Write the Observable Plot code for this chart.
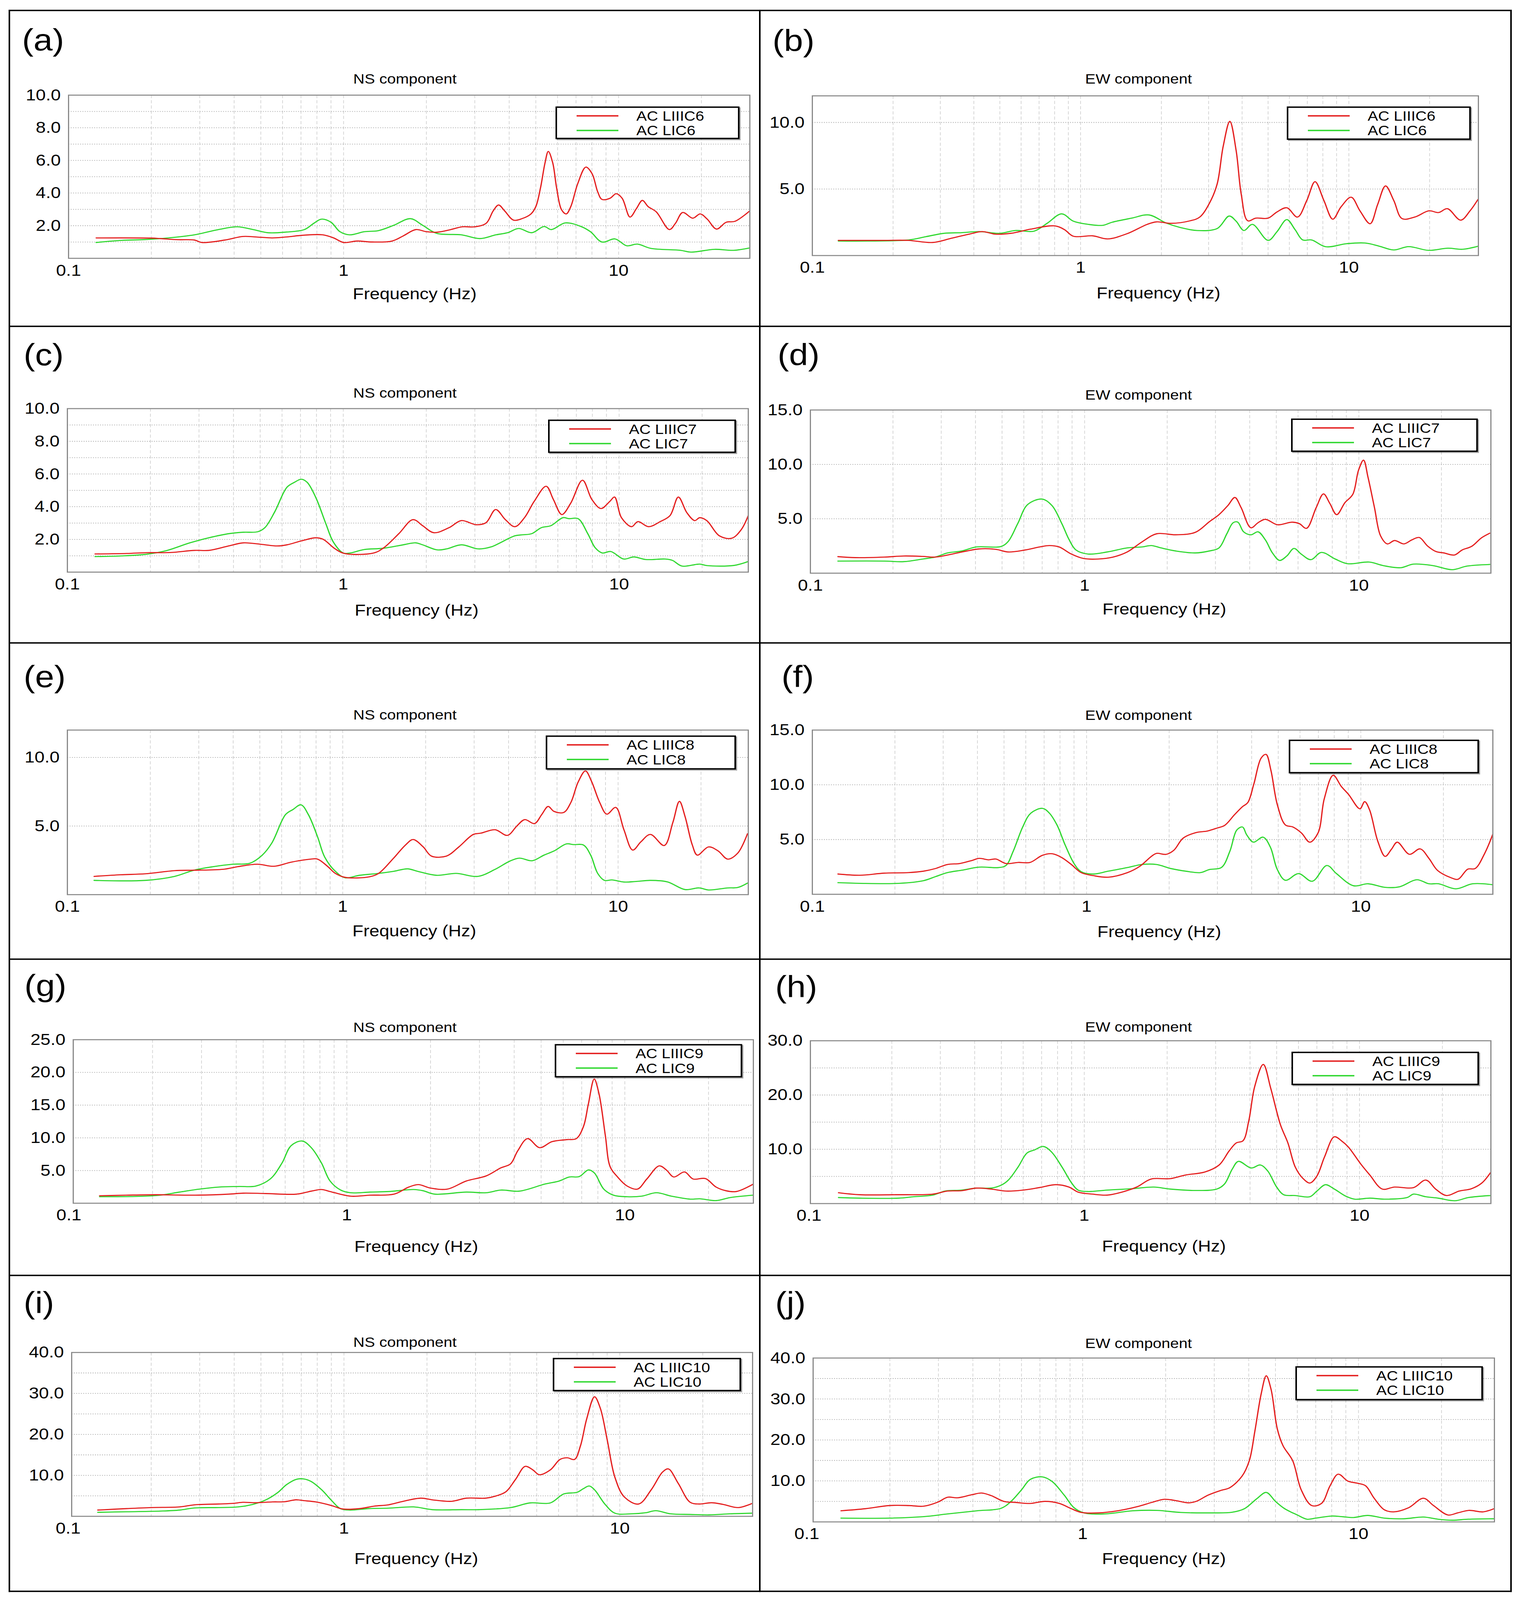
<!DOCTYPE html>
<html>
<head>
<meta charset="utf-8">
<script src="https://cdn.jsdelivr.net/npm/d3@7"></script>
<script src="https://cdn.jsdelivr.net/npm/@observablehq/plot@0.6"></script>
<style>
  html, body { margin: 0; padding: 0; background: #fff; overflow: hidden; }
  #page { position: absolute; left: 0; top: 0; width: 3891px; height: 4599px; background: #fff; font-family: "Liberation Sans", Arial, sans-serif; transform-origin: 0 0; }
  .line { position: absolute; background: #000; }
  .cell { position: absolute; }
  .legend { position: absolute; box-sizing: border-box; border: 4px solid #000; background: #fff; box-shadow: 3px 3px 0 rgba(0,0,0,0.35); }
  .legend .smp { position: absolute; height: 4px; }
  .legend .txt { position: absolute; font-size: 40px; line-height: 40px; white-space: nowrap; color: #000; }
</style>
</head>
<body>
<div id="page"></div>
<script>
// ---------------- DATA ----------------
// [frequency (Hz), amplification]
const a_LIIIC6 = [[0.126,1.25],[0.2,1.24],[0.216,1.21],[0.25,1.14],[0.287,1.12],[0.305,0.97],[0.37,1.12],[0.43,1.34],[0.48,1.31],[0.55,1.25],[0.62,1.31],[0.72,1.42],[0.84,1.44],[0.92,1.25],[1.0,0.97],[1.12,1.06],[1.27,1.0],[1.5,1.06],[1.65,1.38],[1.83,1.76],[2.0,1.63],[2.18,1.6],[2.45,1.76],[2.7,1.93],[3.0,1.93],[3.3,2.15],[3.5,2.91],[3.66,3.27],[3.85,2.91],[4.15,2.34],[4.45,2.43],[4.8,2.72],[5.0,3.17],[5.2,4.32],[5.4,5.85],[5.55,6.55],[5.76,5.85],[5.95,4.32],[6.2,2.98],[6.45,2.72],[6.7,3.17],[7.1,4.57],[7.6,5.59],[8.0,5.2],[8.4,4.06],[8.7,3.61],[9.3,3.68],[9.8,3.96],[10.3,3.68],[11.0,2.53],[11.6,3.04],[12.2,3.55],[12.8,3.17],[13.7,2.85],[15.3,1.76],[16.1,2.15],[17.1,2.81],[18.6,2.46],[19.8,2.72],[21,2.4],[22.7,1.79],[24.6,2.21],[26.5,2.27],[30,2.91]];
const a_LIC6 = [[0.126,0.97],[0.156,1.1],[0.19,1.15],[0.23,1.25],[0.287,1.44],[0.35,1.76],[0.41,1.93],[0.47,1.76],[0.53,1.57],[0.62,1.61],[0.72,1.76],[0.78,2.15],[0.83,2.4],[0.9,2.21],[0.97,1.63],[1.05,1.44],[1.19,1.63],[1.34,1.7],[1.52,2.02],[1.75,2.43],[1.94,2.02],[2.18,1.53],[2.68,1.44],[3.13,1.21],[3.58,1.44],[3.95,1.57],[4.33,1.83],[4.83,1.57],[5.36,1.95],[5.69,1.76],[6.4,2.17],[7.3,1.95],[7.9,1.63],[8.7,1.0],[9.7,1.19],[10.7,0.77],[11.7,0.87],[13.1,0.61],[16.8,0.49],[18.3,0.38],[22.3,0.55],[26.2,0.49],[30,0.64]];

const b_LIIIC6 = [[0.125,1.14],[0.185,1.14],[0.228,1.14],[0.281,0.98],[0.33,1.3],[0.39,1.64],[0.43,1.8],[0.48,1.61],[0.55,1.67],[0.65,1.98],[0.8,2.23],[0.87,1.95],[0.94,1.45],[1.11,1.48],[1.26,1.25],[1.49,1.64],[1.77,2.34],[1.92,2.53],[2.17,2.42],[2.56,2.61],[2.78,2.89],[3.03,3.98],[3.23,5.39],[3.4,8.2],[3.6,10.08],[3.8,7.89],[3.97,4.61],[4.2,2.61],[4.5,2.81],[5.0,2.81],[5.4,3.28],[5.87,3.59],[6.43,2.89],[6.97,4.14],[7.48,5.55],[8.07,4.14],[8.71,2.73],[9.36,3.67],[10.2,4.38],[11.0,3.36],[12.0,2.39],[12.8,3.83],[13.7,5.23],[14.7,4.14],[15.8,2.77],[17.6,2.89],[19.9,3.36],[21.6,3.23],[23.3,3.52],[26.1,2.66],[28.3,3.36],[30.3,4.22]];
const b_LIC6 = [[0.125,1.09],[0.228,1.17],[0.264,1.41],[0.31,1.67],[0.36,1.72],[0.42,1.8],[0.5,1.67],[0.57,1.88],[0.67,1.83],[0.75,2.42],[0.85,3.13],[0.94,2.58],[1.07,2.34],[1.21,2.27],[1.31,2.5],[1.55,2.81],[1.8,3.05],[2.08,2.45],[2.35,2.11],[2.72,1.88],[3.23,2.03],[3.58,2.97],[3.8,2.58],[4.06,1.88],[4.37,2.34],[5.0,1.14],[5.4,1.8],[5.87,2.7],[6.3,1.95],[6.73,1.17],[7.27,1.17],[8.2,0.66],[9.8,0.89],[11.5,0.94],[13.0,0.7],[14.7,0.42],[16.7,0.67],[19.8,0.39],[23.4,0.55],[26.5,0.47],[30.3,0.7]];

const c_LIIIC7 = [[0.126,1.11],[0.164,1.14],[0.193,1.19],[0.236,1.2],[0.289,1.33],[0.326,1.33],[0.384,1.6],[0.434,1.79],[0.51,1.69],[0.576,1.6],[0.625,1.67],[0.705,1.91],[0.795,2.1],[0.845,2.01],[0.935,1.42],[1.01,1.14],[1.29,1.17],[1.4,1.48],[1.59,2.35],[1.79,3.21],[1.94,2.84],[2.13,2.41],[2.42,2.72],[2.68,3.15],[3.03,2.9],[3.29,3.02],[3.57,3.83],[3.87,3.21],[4.19,2.78],[4.54,3.33],[4.92,4.32],[5.44,5.25],[5.78,4.44],[6.2,3.52],[6.67,4.2],[7.37,5.62],[7.97,4.44],[8.6,3.89],[9.25,4.32],[9.63,4.59],[10.2,3.33],[11.1,2.78],[11.7,3.09],[12.8,2.78],[14.1,3.09],[15.3,3.46],[16.4,4.59],[17.6,3.64],[18.8,3.15],[19.6,3.33],[20.8,3.15],[23.1,2.22],[25.6,2.07],[27.7,2.59],[29.4,3.46]];
const c_LIC7 = [[0.126,0.95],[0.157,0.99],[0.193,1.09],[0.227,1.3],[0.278,1.79],[0.326,2.1],[0.384,2.35],[0.434,2.44],[0.49,2.47],[0.52,2.72],[0.565,3.7],[0.625,5.19],[0.665,5.49],[0.705,5.68],[0.74,5.49],[0.795,4.57],[0.865,2.96],[0.92,1.85],[1.0,1.17],[1.06,1.17],[1.19,1.38],[1.4,1.46],[1.65,1.67],[1.83,1.79],[1.94,1.67],[2.19,1.36],[2.37,1.42],[2.68,1.67],[3.09,1.42],[3.43,1.54],[4.19,2.22],[4.45,2.28],[4.82,2.35],[5.23,2.72],[5.66,2.84],[6.26,3.33],[6.58,3.27],[7.1,3.27],[7.7,2.35],[8.2,1.48],[8.7,1.17],[9.33,1.26],[10.4,0.8],[11.3,0.93],[12.5,0.77],[14.7,0.8],[15.6,0.72],[16.9,0.37],[19.6,0.49],[20.8,0.4],[26.1,0.41],[29.4,0.65]];

const d_LIIIC7 = [[0.126,1.52],[0.146,1.43],[0.186,1.48],[0.219,1.58],[0.257,1.54],[0.285,1.48],[0.329,1.76],[0.372,2.04],[0.412,2.23],[0.475,2.19],[0.526,1.95],[0.606,2.13],[0.686,2.41],[0.744,2.54],[0.807,2.41],[0.894,1.76],[0.99,1.35],[1.12,1.3],[1.27,1.48],[1.43,1.95],[1.62,2.88],[1.83,3.62],[2.15,3.53],[2.53,3.75],[2.85,4.73],[3.09,5.38],[3.33,6.22],[3.53,6.96],[3.72,6.03],[4.04,4.17],[4.29,4.64],[4.56,4.95],[5.05,4.45],[5.71,4.69],[6.07,4.55],[6.44,4.12],[6.99,6.03],[7.43,7.29],[7.84,6.4],[8.3,5.38],[8.9,6.49],[9.5,7.24],[9.97,9.46],[10.4,10.39],[10.8,8.81],[11.4,6.03],[12.0,3.43],[12.7,2.69],[13.5,3.0],[14.6,2.69],[15.6,3.06],[16.6,3.28],[17.8,2.5],[19.1,1.99],[20.4,1.86],[22.3,1.67],[23.8,2.13],[25.8,2.47],[28.0,3.25],[30,3.67]];
const d_LIC7 = [[0.126,1.11],[0.186,1.11],[0.219,1.06],[0.257,1.3],[0.285,1.48],[0.316,1.86],[0.357,2.04],[0.403,2.41],[0.495,2.45],[0.526,2.91],[0.57,4.55],[0.62,6.31],[0.7,6.81],[0.76,6.22],[0.826,4.55],[0.877,3.1],[0.93,2.13],[1.03,1.76],[1.21,1.95],[1.43,2.32],[1.62,2.41],[1.75,2.54],[1.9,2.32],[2.15,2.04],[2.53,1.86],[2.85,2.04],[3.09,2.32],[3.3,3.62],[3.48,4.64],[3.62,4.69],[3.8,3.8],[4.04,3.53],[4.29,3.8],[4.56,3.06],[4.84,1.86],[5.14,1.17],[5.46,1.58],[5.8,2.28],[6.16,1.76],[6.68,1.24],[7.3,1.91],[8.2,1.3],[9.1,0.87],[10.9,1.02],[12.3,0.69],[14.2,0.5],[15.8,0.83],[18.6,0.7],[21.9,0.32],[24.8,0.65],[30,0.8]];

const e_LIIIC8 = [[0.125,1.33],[0.156,1.45],[0.192,1.52],[0.245,1.75],[0.288,1.78],[0.368,1.85],[0.416,2.04],[0.489,2.22],[0.563,2.07],[0.65,2.37],[0.764,2.59],[0.81,2.59],[0.88,2.07],[0.94,1.55],[1.02,1.26],[1.25,1.3],[1.35,1.55],[1.53,2.66],[1.69,3.62],[1.8,4.02],[1.96,3.48],[2.1,2.81],[2.38,2.81],[2.64,3.48],[2.98,4.39],[3.17,4.48],[3.58,4.73],[3.96,4.32],[4.3,5.03],[4.58,5.47],[4.97,5.18],[5.28,5.84],[5.57,6.43],[5.85,6.07],[6.34,5.99],[6.74,6.73],[7.16,8.21],[7.61,9.02],[8.0,8.28],[8.57,6.73],[9.1,5.87],[9.8,6.36],[10.5,4.73],[11.3,3.25],[12.1,3.85],[13.1,4.39],[14.7,3.58],[15.8,5.25],[16.7,6.8],[17.5,5.7],[18.6,3.62],[19.4,2.88],[21.3,3.48],[23.1,3.18],[25.0,2.59],[27.2,3.03],[29.5,4.44]];
const e_LIC8 = [[0.125,1.04],[0.192,1.04],[0.245,1.33],[0.288,1.78],[0.339,2.04],[0.399,2.22],[0.46,2.29],[0.51,2.88],[0.553,3.77],[0.62,5.84],[0.66,6.21],[0.705,6.55],[0.75,5.84],[0.81,4.22],[0.86,2.74],[0.94,1.7],[1.02,1.23],[1.15,1.41],[1.35,1.55],[1.53,1.7],[1.72,1.88],[1.87,1.7],[2.19,1.41],[2.58,1.55],[3.09,1.33],[3.58,1.85],[4.04,2.44],[4.38,2.66],[4.87,2.47],[5.38,2.88],[5.85,3.18],[6.49,3.7],[6.89,3.65],[7.48,3.62],[7.95,2.88],[8.43,1.55],[8.92,1.04],[9.5,1.07],[10.5,0.92],[11.6,0.96],[13.1,1.04],[15.1,0.93],[17.5,0.37],[19.7,0.49],[21.3,0.34],[25,0.49],[27.2,0.52],[29.5,0.84]];

const f_LIIIC8 = [[0.124,1.85],[0.149,1.74],[0.183,1.93],[0.224,1.98],[0.254,2.11],[0.281,2.35],[0.311,2.72],[0.345,2.81],[0.382,3.09],[0.406,3.28],[0.44,3.15],[0.467,3.22],[0.508,2.81],[0.563,2.91],[0.622,2.91],[0.69,3.56],[0.75,3.7],[0.81,3.37],[0.88,2.72],[0.955,1.98],[1.06,1.7],[1.2,1.56],[1.41,1.98],[1.56,2.54],[1.73,3.5],[1.8,3.74],[1.95,3.65],[2.08,4.02],[2.25,5.13],[2.5,5.63],[2.76,5.78],[3.0,6.06],[3.19,6.3],[3.46,7.26],[3.7,8.0],[3.87,8.37],[4.07,10.04],[4.33,12.44],[4.51,12.78],[4.7,11.33],[4.96,8.19],[5.31,6.33],[5.65,6.15],[6.08,5.59],[6.51,4.76],[6.98,5.59],[7.36,8.74],[7.93,10.87],[8.49,9.85],[9.03,9.11],[9.92,7.81],[10.33,8.46],[10.76,7.72],[11.53,4.85],[12.27,3.46],[12.93,4.11],[13.58,4.76],[15.04,3.65],[16.45,4.15],[17.71,3.28],[19.06,2.17],[21.28,1.52],[22.62,1.37],[24.55,2.3],[26.1,2.35],[28.3,3.74],[30.3,5.5]];
const f_LIC8 = [[0.124,1.06],[0.149,1.0],[0.207,1.0],[0.254,1.24],[0.281,1.61],[0.311,1.98],[0.351,2.2],[0.406,2.48],[0.477,2.44],[0.508,2.63],[0.54,3.93],[0.585,6.15],[0.626,7.41],[0.69,7.85],[0.73,7.44],[0.78,6.33],[0.836,4.48],[0.9,2.81],[0.955,2.07],[1.06,1.85],[1.2,2.11],[1.41,2.44],[1.59,2.72],[1.8,2.72],[2.03,2.35],[2.3,2.11],[2.6,1.98],[2.8,2.26],[3.1,2.44],[3.33,3.93],[3.53,5.87],[3.7,6.15],[3.84,5.41],[4.06,4.76],[4.4,5.22],[4.68,4.3],[4.96,2.26],[5.31,1.28],[5.93,1.89],[6.65,1.19],[7.52,2.63],[8.15,1.89],[9.4,0.78],[10.63,0.96],[12.27,0.63],[13.86,0.69],[15.99,1.33],[17.71,0.96],[19.2,0.96],[22.2,0.5],[25.6,0.96],[30.3,0.87]];

const g_LIIIC9 = [[0.129,1.14],[0.161,1.23],[0.206,1.3],[0.284,1.23],[0.376,1.39],[0.424,1.54],[0.51,1.48],[0.66,1.39],[0.745,1.85],[0.81,2.1],[0.87,1.79],[1.03,1.08],[1.21,1.23],[1.48,1.39],[1.67,2.47],[1.81,2.84],[2.0,2.31],[2.3,2.16],[2.69,3.4],[3.17,4.17],[3.58,5.4],[3.88,6.02],[4.12,8.02],[4.47,9.88],[4.94,8.49],[5.47,9.41],[6.17,9.72],[6.69,9.88],[7.1,11.73],[7.39,15.12],[7.76,18.98],[8.08,16.67],[8.51,10.34],[8.86,5.56],[9.42,4.01],[10.2,2.62],[11.1,2.16],[12.0,3.7],[13.3,5.71],[14.1,5.09],[15.0,4.01],[16.4,4.78],[17.6,3.7],[19.5,3.77],[21.3,2.47],[23.1,1.91],[25.2,1.79],[29.0,2.93]];
const g_LIC9 = [[0.129,0.99],[0.206,1.17],[0.25,1.7],[0.295,2.16],[0.347,2.47],[0.41,2.56],[0.47,2.62],[0.53,3.7],[0.585,6.17],[0.63,8.8],[0.69,9.51],[0.745,8.49],[0.81,6.17],[0.87,3.4],[0.95,2.01],[1.03,1.6],[1.21,1.7],[1.42,1.79],[1.74,2.1],[1.88,1.91],[2.07,1.39],[2.69,1.7],[3.17,1.6],[3.58,2.01],[4.18,1.85],[5.16,2.93],[5.81,3.4],[6.31,4.01],[6.85,4.07],[7.4,5.09],[7.77,4.63],[8.4,2.16],[9.1,1.23],[10.2,0.99],[11.5,1.08],[13.0,1.6],[14.7,1.08],[17.2,0.62],[18.6,0.68],[21.3,0.4],[23.9,0.86],[29.0,1.23]];

const h_LIIIC9 = [[0.128,2.0],[0.153,1.63],[0.207,1.63],[0.282,1.74],[0.318,2.3],[0.359,2.37],[0.406,2.85],[0.459,2.67],[0.52,2.3],[0.6,2.48],[0.69,2.96],[0.79,3.48],[0.88,3.04],[0.95,2.11],[1.07,1.74],[1.21,1.56],[1.37,2.11],[1.55,3.04],[1.75,4.52],[2.05,4.59],[2.33,5.26],[2.74,5.81],[3.09,7.11],[3.36,9.7],[3.57,11.19],[3.77,11.56],[3.96,15.26],[4.16,21.56],[4.47,25.63],[4.76,21.19],[5.16,14.52],[5.49,11.19],[5.84,6.74],[6.21,4.7],[6.6,3.78],[7.0,5.07],[7.46,8.59],[8.1,12.3],[8.6,11.56],[9.1,10.44],[10.1,7.3],[10.9,5.26],[12.1,2.67],[13.4,3.04],[15.7,2.93],[17.4,4.33],[18.9,2.67],[20.7,1.48],[23.0,2.3],[25.5,2.74],[27.8,3.78],[29.9,5.7]];
const h_LIC9 = [[0.128,1.11],[0.153,1.0],[0.212,1.0],[0.24,1.26],[0.282,1.56],[0.312,2.3],[0.359,2.48],[0.406,2.85],[0.459,2.85],[0.5,3.41],[0.53,4.33],[0.575,6.74],[0.62,9.33],[0.66,9.89],[0.71,10.52],[0.76,9.52],[0.83,6.74],[0.9,3.78],[0.95,2.48],[1.03,2.22],[1.21,2.48],[1.49,2.74],[1.79,3.04],[2.05,2.67],[2.54,2.41],[3.03,2.67],[3.23,3.59],[3.45,6.37],[3.63,7.78],[4.04,6.56],[4.36,7.11],[4.64,6.0],[5.0,3.04],[5.3,1.63],[5.84,1.48],[6.6,1.26],[7.0,2.3],[7.52,3.48],[8.1,2.67],[8.9,1.37],[9.6,0.81],[10.9,1.0],[12.3,0.81],[14.9,1.11],[15.7,1.74],[17.4,1.26],[19.3,1.0],[22.2,0.52],[24.9,1.11],[29.9,1.48]];

const i_LIIIC10 = [[0.128,1.53],[0.163,1.89],[0.2,2.14],[0.254,2.3],[0.287,2.81],[0.351,3.01],[0.397,3.16],[0.43,3.42],[0.477,3.32],[0.55,3.52],[0.61,3.57],[0.67,4.03],[0.715,3.83],[0.79,3.52],[0.9,2.65],[0.99,1.79],[1.14,1.89],[1.29,2.5],[1.45,2.81],[1.64,3.67],[1.9,4.44],[2.09,4.03],[2.46,3.67],[2.78,4.44],[3.27,4.44],[3.55,4.95],[3.86,5.97],[4.19,9.03],[4.54,12.19],[4.84,11.33],[5.11,10.15],[5.6,11.33],[6.07,13.88],[6.45,14.29],[6.85,13.88],[7.2,17.19],[7.59,23.83],[8.1,29.18],[8.5,26.38],[9.0,18.72],[9.6,9.54],[10.4,4.69],[11.7,3.01],[13.0,6.48],[14.3,10.82],[15.0,11.58],[16.3,8.01],[18.0,3.42],[19.4,3.01],[21.5,3.32],[23.7,2.91],[26.9,2.14],[30.2,3.16]];
const i_LIC10 = [[0.128,0.97],[0.163,1.12],[0.216,1.28],[0.254,1.53],[0.287,2.04],[0.351,2.14],[0.414,2.3],[0.467,2.91],[0.518,3.93],[0.573,5.71],[0.62,7.76],[0.672,9.03],[0.715,9.13],[0.76,8.52],[0.83,6.48],[0.9,3.93],[0.97,1.89],[1.05,1.53],[1.23,1.89],[1.45,1.99],[1.79,2.3],[2.09,1.63],[2.67,1.63],[3.08,1.63],[4.02,2.14],[4.72,3.27],[5.6,3.27],[6.26,5.46],[7.0,5.87],[7.37,6.73],[7.75,7.4],[8.1,6.48],[8.85,2.91],[9.6,0.77],[11.0,0.61],[12.4,0.87],[13.5,1.38],[15.3,0.61],[18.0,0.46],[21.1,0.36],[25.0,0.61],[30.2,0.77]];

const j_LIIIC10 = [[0.133,2.71],[0.163,3.22],[0.199,3.99],[0.235,3.99],[0.265,3.83],[0.299,4.85],[0.324,6.03],[0.351,5.88],[0.397,6.64],[0.43,7.05],[0.467,6.39],[0.518,5.01],[0.573,4.75],[0.646,4.5],[0.73,5.01],[0.824,4.5],[0.91,3.22],[0.99,2.3],[1.14,2.2],[1.34,2.71],[1.58,3.73],[1.78,4.75],[1.98,5.52],[2.15,5.26],[2.42,4.65],[2.58,5.01],[2.85,6.54],[3.16,7.66],[3.41,8.33],[3.78,11.14],[4.02,14.97],[4.21,22.13],[4.44,31.32],[4.63,35.67],[4.82,32.35],[5.08,22.64],[5.33,18.55],[5.77,14.97],[6.2,7.82],[6.77,3.99],[7.34,4.5],[7.89,8.84],[8.44,11.65],[9.15,9.96],[9.9,9.45],[10.6,8.84],[11.4,5.77],[12.4,2.96],[13.4,2.45],[15.2,3.47],[17.2,5.77],[18.7,3.99],[21.1,1.69],[22.9,2.2],[25.1,2.81],[28.3,2.45],[31.0,3.22]];
const j_LIC10 = [[0.133,0.92],[0.199,0.92],[0.265,1.28],[0.324,1.94],[0.414,2.71],[0.506,3.32],[0.55,5.01],[0.6,7.82],[0.646,10.37],[0.715,10.99],[0.775,9.86],[0.857,6.54],[0.93,3.47],[1.01,2.2],[1.19,1.94],[1.52,2.71],[1.86,2.81],[2.27,2.3],[2.9,2.2],[3.48,2.35],[3.86,3.22],[4.28,5.67],[4.63,7.2],[5.0,5.01],[5.4,3.22],[6.0,1.69],[6.5,0.66],[7.0,0.92],[8.0,1.43],[8.7,1.28],[9.6,1.07],[10.8,1.58],[12.4,0.92],[14.6,0.77],[17.2,1.18],[19.4,0.66],[21.9,0.41],[25.0,0.66],[31.0,0.77]];

// tick labels and grid values
const xTickLabels = [0.1, 1, 10];
const xGridLines = [0.2,0.3,0.4,0.5,0.6,0.7,0.8,0.9,1,2,3,4,5,6,7,8,9,10,20];
const yTicks10 = [2,4,6,8,10];
const yGrid10 = [1,2,3,4,5,6,7,8,9];
const yTicks12 = [5,10];
const yGrid12 = [5,10];
const yTicks15 = [5,10,15];
const yGrid15 = [5,10];
const yTicks25 = [5,10,15,20,25];
const yGrid25 = [5,10,15,20];
const yTicks30 = [10,20,30];
const yGrid30 = [5,10,15,20,25];
const yTicks40 = [10,20,30,40];
const yGrid40 = [5,10,15,20,25,30,35];
const panelLabels = ["(a)","(b)","(c)","(d)","(e)","(f)","(g)","(h)","(i)","(j)"];
const components = ["NS component","EW component"];
const seriesNames = [["AC LIIIC6","AC LIC6"],["AC LIIIC7","AC LIC7"],["AC LIIIC8","AC LIC8"],["AC LIIIC9","AC LIC9"],["AC LIIIC10","AC LIC10"]];
const xAxisLabel = "Frequency (Hz)";

const panels = [
  {red:a_LIIIC6, green:a_LIC6, ymax:10, yt:yTicks10, yg:yGrid10, xd:[0.1,30]},
  {red:b_LIIIC6, green:b_LIC6, ymax:12, yt:yTicks12, yg:yGrid12, xd:[0.1,30.4]},
  {red:c_LIIIC7, green:c_LIC7, ymax:10, yt:yTicks10, yg:yGrid10, xd:[0.1,29.4]},
  {red:d_LIIIC7, green:d_LIC7, ymax:15, yt:yTicks15, yg:yGrid15, xd:[0.1,30.3]},
  {red:e_LIIIC8, green:e_LIC8, ymax:12, yt:yTicks12, yg:yGrid12, xd:[0.1,29.7]},
  {red:f_LIIIC8, green:f_LIC8, ymax:15, yt:yTicks15, yg:yGrid15, xd:[0.1,30.3]},
  {red:g_LIIIC9, green:g_LIC9, ymax:25, yt:yTicks25, yg:yGrid25, xd:[0.1037,29.0]},
  {red:h_LIIIC9, green:h_LIC9, ymax:30, yt:yTicks30, yg:yGrid30, xd:[0.1012,30]},
  {red:i_LIIIC10, green:i_LIC10, ymax:40, yt:yTicks40, yg:yGrid40, xd:[0.103,30.3]},
  {red:j_LIIIC10, green:j_LIC10, ymax:40, yt:yTicks40, yg:yGrid40, xd:[0.1054,31.1]}
];

// ---------------- LAYOUT (pixels, in the 3891x4599 design space) ----------------
const PAGE_W = 3891, PAGE_H = 4599;
const colX = [22, 1945, 3870];
const rowY = [28, 938, 1848, 2757, 3666, 4576];
const layout = [
  {frame:[175,273,1919,742],  lab:[56,144],   title:[1036,240],  xlab:[1061,860],  leg:[1422,306,1893,400]},
  {frame:[2079,275,3784,734], lab:[1977,147], title:[2914,240],  xlab:[2965,857],  leg:[3294,306,3765,402]},
  {frame:[172,1174,1915,1644],lab:[60,1049],  title:[1036,1143], xlab:[1066,1769], leg:[1403,1206,1884,1302]},
  {frame:[2074,1178,3816,1647],lab:[1990,1049],title:[2914,1148],xlab:[2980,1766], leg:[3305,1203,3783,1299]},
  {frame:[172,2098,1915,2571],lab:[60,1974],  title:[1036,2068], xlab:[1060,2691], leg:[1397,2114,1884,2212]},
  {frame:[2079,2098,3821,2570],lab:[2000,1974],title:[2914,2069],xlab:[2967,2693], leg:[3299,2126,3786,2223]},
  {frame:[187,2988,1928,3458],lab:[62,2863],  title:[1036,2966], xlab:[1065,3598], leg:[1420,3001,1900,3097]},
  {frame:[2074,2991,3816,3459],lab:[1984,2866],title:[2914,2965],xlab:[2979,3597], leg:[3306,3023,3786,3119]},
  {frame:[183,3887,1926,4358],lab:[60,3774],  title:[1036,3871], xlab:[1065,4495], leg:[1415,3903,1897,3999]},
  {frame:[2081,3903,3825,4374],lab:[1984,3774],title:[2914,3874],xlab:[2979,4495], leg:[3316,3927,3796,4025]}
];

const RED = "#e41e1e";
const GREEN = "#30d830";
const FONT = "'Liberation Sans', Arial, Helvetica, sans-serif";

const page = document.getElementById("page");

// fit the whole design into the actual viewport (the window may be shorter than requested)
const kx = (window.innerWidth || PAGE_W) / PAGE_W;
const ky = (window.innerHeight || PAGE_H) / PAGE_H;
if (Math.abs(kx - 1) > 0.001 || Math.abs(ky - 1) > 0.001) {
  page.style.transform = `scale(${kx}, ${ky})`;
}

function addLine(x, y, w, h) {
  const d = document.createElement("div");
  d.className = "line";
  Object.assign(d.style, {left: x + "px", top: y + "px", width: w + "px", height: h + "px"});
  page.appendChild(d);
}

panels.forEach((p, k) => {
  const col = k % 2, row = Math.floor(k / 2);
  const cx0 = colX[col], cx1 = colX[col + 1], cy0 = rowY[row], cy1 = rowY[row + 1];
  const L = layout[k];
  const [fx0, fy0, fx1, fy1] = L.frame;
  const names = seriesNames[row];
  const W = cx1 - cx0, H = cy1 - cy0;

  const txt = (s, pos, opts) => Plot.text([s], {
    frameAnchor: "top-left", dx: pos[0] - fx0, dy: pos[1] - fy0,
    text: d => d, lineAnchor: "bottom", fill: "#000", ...opts
  });

  const svg = Plot.plot({
    width: W, height: H,
    marginLeft: fx0 - cx0, marginRight: cx1 - fx1, marginTop: fy0 - cy0, marginBottom: cy1 - fy1,
    style: {background: "none", fontFamily: FONT, fontSize: "46px", color: "#000", overflow: "visible"},
    x: {type: "log", domain: p.xd},
    y: {domain: [0, p.ymax]},
    marks: [
      Plot.ruleX(xGridLines.filter(v => v > p.xd[0] && v < p.xd[1]), {stroke: "#cdcdcd", strokeWidth: 1.6, strokeDasharray: "9,6"}),
      Plot.ruleY(p.yg, {stroke: "#b0b0b0", strokeWidth: 2, strokeDasharray: "2.5,3.5"}),
      Plot.line(p.green, {x: d => d[0], y: d => d[1], stroke: GREEN, strokeWidth: 3.2, curve: "catmull-rom"}),
      Plot.line(p.red, {x: d => d[0], y: d => d[1], stroke: RED, strokeWidth: 3.2, curve: "catmull-rom"}),
      Plot.frame({stroke: "#8a8a8a", strokeWidth: 3}),
      Plot.axisX(xTickLabels, {tickSize: 0, tickPadding: 17, tickFormat: d => String(d), label: null, fontSize: 46}),
      Plot.axisY(p.yt, {tickSize: 0, tickPadding: 20, tickFormat: d => d.toFixed(1), label: null, fontSize: 46}),
      txt(panelLabels[k], L.lab, {textAnchor: "start", fontSize: 88}),
      txt(components[col], L.title, {textAnchor: "middle", fontSize: 40}),
      txt(xAxisLabel, L.xlab, {textAnchor: "middle", fontSize: 46})
    ]
  });

  const cell = document.createElement("div");
  cell.className = "cell";
  Object.assign(cell.style, {left: cx0 + "px", top: cy0 + "px", width: W + "px", height: H + "px"});
  cell.appendChild(svg);
  page.appendChild(cell);

  // legend box
  const [lx0, ly0, lx1, ly1] = L.leg;
  const lg = document.createElement("div");
  lg.className = "legend";
  Object.assign(lg.style, {left: lx0 + "px", top: ly0 + "px", width: (lx1 - lx0) + "px", height: (ly1 - ly0) + "px"});
  [[names[0], RED, 27], [names[1], GREEN, 69]].forEach(([name, color, cy]) => {
    const s = document.createElement("div");
    s.className = "smp";
    Object.assign(s.style, {left: "50px", top: (cy - 4 - 2) + "px", width: "107px", background: color});
    lg.appendChild(s);
    const t = document.createElement("div");
    t.className = "txt";
    Object.assign(t.style, {left: "203px", top: (cy - 4 - 20) + "px", fontFamily: FONT});
    t.textContent = name;
    lg.appendChild(t);
  });
  page.appendChild(lg);
});

// panel borders
const BW = 4;
addLine(colX[0], rowY[0], colX[2] - colX[0], BW);
addLine(colX[0], rowY[5] - BW, colX[2] - colX[0], BW);
addLine(colX[0], rowY[0], BW, rowY[5] - rowY[0]);
addLine(colX[2] - BW, rowY[0], BW, rowY[5] - rowY[0]);
addLine(colX[1] - BW / 2, rowY[0], BW, rowY[5] - rowY[0]);
for (let r = 1; r < 5; r++) addLine(colX[0], rowY[r] - BW / 2, colX[2] - colX[0], BW);
</script>
</body>
</html>
